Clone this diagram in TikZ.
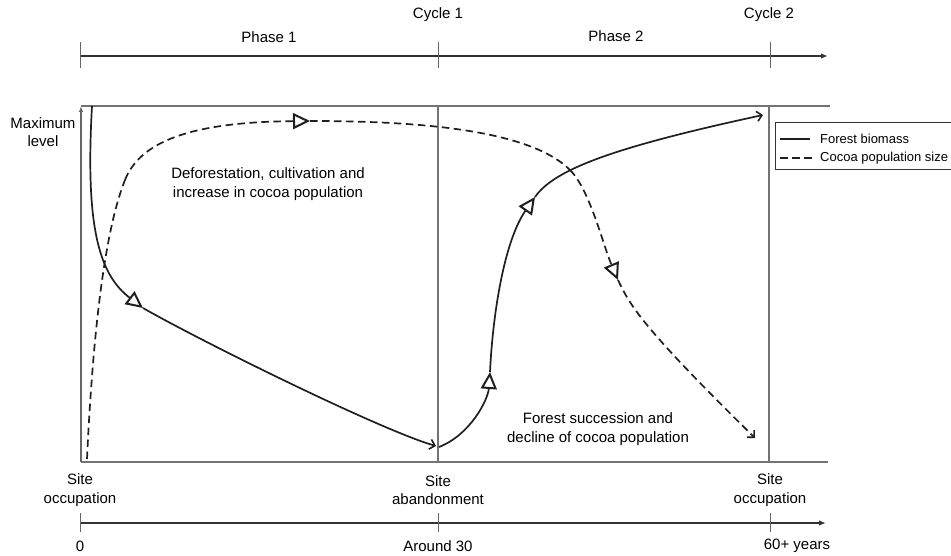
\documentclass[tikz,border=0pt]{standalone}
\usepackage{fontspec}
\setmainfont{Liberation Sans}
\usetikzlibrary{arrows.meta}
\begin{document}
\begin{tikzpicture}[x=1pt,y=-1pt,
  lbl/.style={font=\fontsize{15}{18.5}\selectfont, inner sep=0pt, align=center},
  leg/.style={font=\fontsize{13}{15}\selectfont, inner sep=0pt, anchor=west},
  frame/.style={draw=black!55, line width=1.2pt},
  axis/.style={draw=black!80, line width=1.4pt, -{Latex[length=7pt,width=5.5pt]}},
  tickline/.style={draw=black!60, line width=1pt},
  curve/.style={line width=1.7pt, draw=black!88},
  dcurve/.style={curve, dash pattern=on 7.5pt off 4.5pt},
  tri/.style={-{Triangle[open,length=17pt,width=16pt,line width=2pt]}},
  endtip/.style={-{Straight Barb[length=5pt,width=10pt,line width=1.6pt]}}
]
\useasboundingbox (0,0) rectangle (951,556);

% top time axis
\coordinate (ta0) at (80,56);
\coordinate (ta1) at (438,56);
\coordinate (ta2) at (770,56);
\coordinate (taE) at (828,56);
\draw[axis] (ta0) -- (taE);
\foreach \p in {ta0,ta1,ta2} \draw[tickline] ([yshift=-12pt]\p) -- ([yshift=14pt]\p);
\node[lbl] (ph1) at (269,37) {Phase 1};
\node[lbl] (ph2) at (616,36) {Phase 2};
\node[lbl] (cy1) at (438,15) {Cycle 1};
\node[lbl] (cy2) at (769,15) {Cycle 2};

% frame
\coordinate (bl) at (81,462);
\coordinate (tl) at (81,106);
\draw[frame] (81,106) -- (830,106);
\draw[frame] (81,462) -- (828,462);
\draw[frame] (438,106) -- (438,462);
\draw[frame] (769,106) -- (769,462);
\draw[draw=black!60, line width=1.2pt, -{Latex[length=6pt,width=4.5pt]}] (bl) -- (tl);
\node[lbl] (maxl) at (43,132) {Maximum\\level};

% bottom axis
\coordinate (ba0) at (80,523);
\coordinate (ba1) at (438,523);
\coordinate (ba2) at (770,523);
\coordinate (baE) at (826,523);
\draw[axis] (ba0) -- (baE);
\foreach \p in {ba0,ba1,ba2} \draw[tickline] ([yshift=-9pt]\p) -- ([yshift=10pt]\p);
\node[lbl] (l0) at (80,546) {0};
\node[lbl] (l30) at (438,546) {Around 30};
\node[lbl] (l60) at (797,546) {60+ years};
\node[lbl] (so1) at (80,490) {Site\\occupation};
\node[lbl] (sa) at (438,490) {Site\\abandonment};
\node[lbl] (so2) at (770,490) {Site\\occupation};

% texts
\node[lbl] (t1) at (268,184) {Deforestation, cultivation and\\increase in cocoa population};
\node[lbl] (t2) at (598,429) {Forest succession and\\decline of cocoa population};

% forest biomass curve
\coordinate (f0) at (92,106);
\coordinate (f1) at (143,308);
\coordinate (f2) at (436,446);
\coordinate (f3) at (439,447);
\coordinate (f4) at (490,372);
\coordinate (f5) at (535,197);
\coordinate (f6) at (763,115);
\draw[curve,tri] (f0) .. controls (85,230) and (100,275) .. (f1);
\draw[curve,endtip] (f1) .. controls (195,338) and (380,430) .. (f2);
\draw[curve,tri] (f3) .. controls (470,435) and (488,400) .. (f4);
\draw[curve,tri] (f4) .. controls (493,310) and (505,240) .. (f5);
\draw[curve,endtip] (f5) .. controls (554,170) and (610,148) .. (f6);

% cocoa curve
\coordinate (c0) at (87,459);
\coordinate (c1) at (125,180);
\coordinate (c2) at (310,121);
\coordinate (c3) at (570,170);
\coordinate (c4) at (618,280);
\coordinate (c5) at (755,438);
\draw[dcurve] (c0) .. controls (93,330) and (105,230) .. (c1);
\draw[dcurve,tri] (c1) .. controls (140,142) and (190,122) .. (c2);
\draw[dcurve] (c2) .. controls (420,121) and (530,130) .. (c3);
\draw[dcurve,tri] (c3) .. controls (590,190) and (603,245) .. (c4);
\draw[dcurve,endtip] (c4) .. controls (630,305) and (640,325) .. (c5);

% legend
\draw[draw=black!80, line width=1pt] (775,123) rectangle (960,170);
\coordinate (la) at (780,139);
\coordinate (lb) at (810,139);
\coordinate (lc) at (780,158);
\coordinate (ld) at (815,158);
\draw[curve] (la) -- (lb);
\draw[dcurve] (lc) -- (ld);
\node[leg] (lg1) at (820,139) {Forest biomass};
\node[leg] (lg2) at (820,158) {Cocoa population size};
\end{tikzpicture}
\end{document}
